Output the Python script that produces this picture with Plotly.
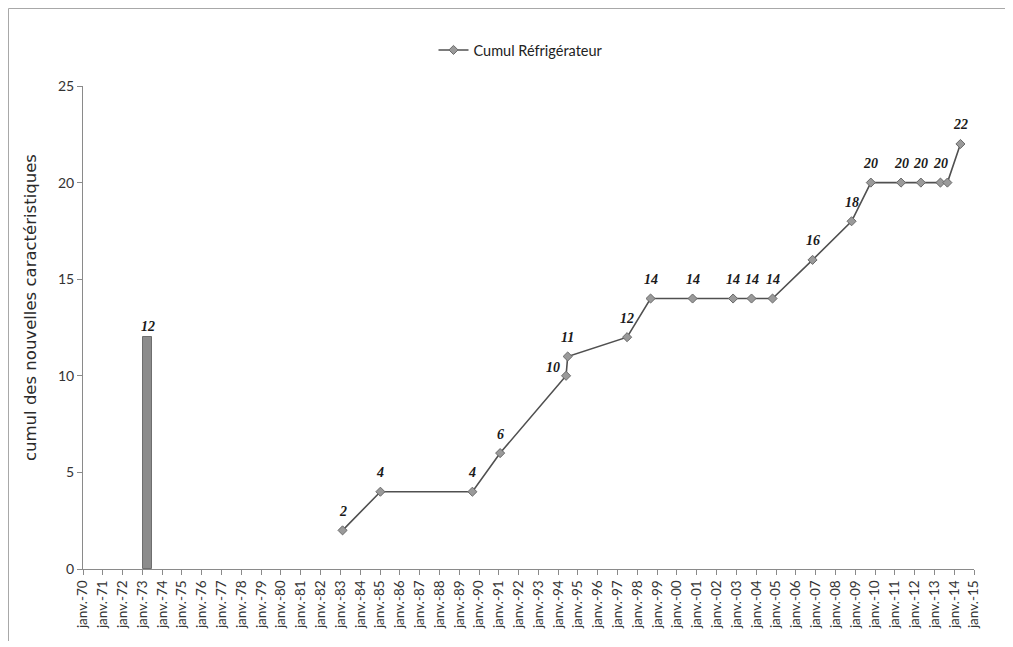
import plotly.graph_objects as go

# ---- data ----
bar_dates = ["1973-04-08"]
bar_values = [12]
bar_labels = ["12"]

line_name = "Cumul Réfrigérateur"
line_dates = ["1983-02-10", "1985-01-08", "1989-09-01", "1991-01-26", "1994-05-26",
              "1994-06-25", "1997-06-25", "1998-09-01", "2000-10-15", "2002-11-01",
              "2003-10-07", "2004-10-29", "2006-11-06", "2008-10-26", "2009-10-16",
              "2011-04-26", "2012-04-26", "2013-04-22", "2013-08-28", "2014-04-26"]
line_values = [2, 4, 4, 6, 10, 11, 12, 14, 14, 14, 14, 14, 16, 18, 20, 20, 20, 20, 20, 22]
line_labels = ["2", "4", "4", "6", "10", "11", "12", "14", "14", "14", "14", "14",
               "16", "18", "20", "20", "20", "20", "", "22"]

tick_dates = ["%d-01-01" % y for y in range(1970, 2016)]
tick_labels = ["janv.-70", "janv.-71", "janv.-72", "janv.-73", "janv.-74", "janv.-75",
               "janv.-76", "janv.-77", "janv.-78", "janv.-79", "janv.-80", "janv.-81",
               "janv.-82", "janv.-83", "janv.-84", "janv.-85", "janv.-86", "janv.-87",
               "janv.-88", "janv.-89", "janv.-90", "janv.-91", "janv.-92", "janv.-93",
               "janv.-94", "janv.-95", "janv.-96", "janv.-97", "janv.-98", "janv.-99",
               "janv.-00", "janv.-01", "janv.-02", "janv.-03", "janv.-04", "janv.-05",
               "janv.-06", "janv.-07", "janv.-08", "janv.-09", "janv.-10", "janv.-11",
               "janv.-12", "janv.-13", "janv.-14", "janv.-15"]
y_ticks = [0, 5, 10, 15, 20, 25]
y_title = "cumul des nouvelles caractéristiques"

# ---- figure (page body adds an 8px offset) ----
W, H = 1005, 639
L, R, T, B = 75, 39, 78, 78

fig = go.Figure()
fig.add_trace(go.Bar(
    x=bar_dates, y=bar_values, showlegend=False,
    width=[177 * 86400000],
    marker=dict(color="#8c8c8c", line=dict(color="#6e6e6e", width=1)),
    hoverinfo="skip",
))
fig.add_trace(go.Scatter(
    x=line_dates, y=line_values, mode="lines+markers", name=line_name,
    line=dict(color="#505050", width=1.6),
    marker=dict(symbol="diamond", size=7, color="#9a9a9a",
                line=dict(color="#6a6a6a", width=1)),
))

label_font = dict(family="Liberation Serif", size=14, color="#1a1a1a",
                  weight="bold", style="italic")
annotations = []
for d, v, t in zip(bar_dates, bar_values, bar_labels):
    annotations.append(dict(x=d, y=v, text=t, showarrow=False, yshift=11,
                            font=label_font, xref="x", yref="y"))
for i, (d, v, t) in enumerate(zip(line_dates, line_values, line_labels)):
    if not t:
        continue
    xs, ys = 0, 19
    if v == 10:
        xs, ys = -13, 8
    annotations.append(dict(x=d, y=v, text=t, showarrow=False,
                            xshift=xs, yshift=ys, font=label_font,
                            xref="x", yref="y"))

pw, ph = W - L - R, H - T - B
def px_x(p):
    return (p - L) / pw
def px_y(p):
    return (H - B - p) / ph

# y-axis title as a rotated annotation
annotations.append(dict(text=y_title, textangle=-90, showarrow=False,
                        xref="paper", yref="paper", x=px_x(22), y=px_y(300),
                        xanchor="center", yanchor="middle",
                        font=dict(family="DejaVu Sans", size=16.5, color="#2a2a2a")))

fig.update_layout(
    width=W, height=H,
    margin=dict(l=L, r=R, t=T, b=B, autoexpand=False),
    paper_bgcolor="white", plot_bgcolor="white",
    font=dict(family="Lato", size=13, color="#333333"),
    bargap=0,
    showlegend=True,
    legend=dict(orientation="h", x=px_x(513), xanchor="center", y=px_y(42),
                yanchor="middle", font=dict(size=14.5, color="#222222"),
                bgcolor="rgba(0,0,0,0)"),
    xaxis=dict(type="date", range=["1970-01-01", "2015-01-01"],
               tickvals=tick_dates, ticktext=tick_labels, tickangle=-90,
               ticks="outside", ticklen=5, tickcolor="#8a8a8a",
               showline=True, linecolor="#8a8a8a", linewidth=1,
               showgrid=False, zeroline=False,
               tickfont=dict(size=13.5, color="#333333")),
    yaxis=dict(range=[0, 25], tickvals=y_ticks, ticks="outside", ticklen=5,
               tickcolor="#8a8a8a", showline=True, linecolor="#8a8a8a",
               linewidth=1, showgrid=False, zeroline=False,
               tickfont=dict(size=14, color="#333333")),
    annotations=annotations,
    shapes=[
        dict(type="line", xref="paper", yref="paper",
             x0=px_x(0.5), x1=px_x(0.5), y0=px_y(633), y1=px_y(0.5),
             line=dict(color="#a8a8a8", width=1), layer="below"),
        dict(type="line", xref="paper", yref="paper",
             x0=px_x(0.5), x1=px_x(1004.5), y0=px_y(0.5), y1=px_y(0.5),
             line=dict(color="#a8a8a8", width=1), layer="below"),
    ],
)

fig.write_html("out.html")
